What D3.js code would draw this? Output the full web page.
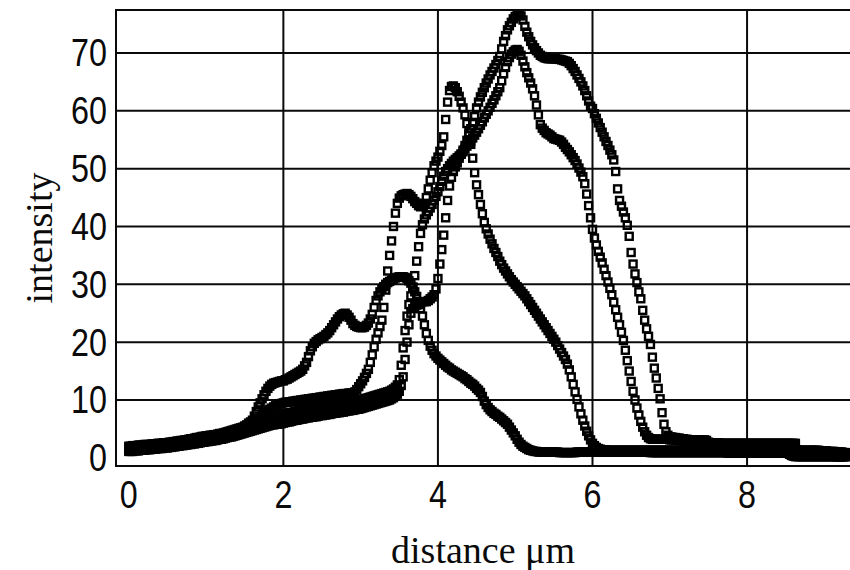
<!DOCTYPE html>
<html>
<head>
<meta charset="utf-8">
<script src="https://cdn.jsdelivr.net/npm/d3@7/dist/d3.min.js"></script>
<style>
  html, body { margin: 0; padding: 0; background: #fff; }
  svg { display: block; }
</style>
</head>
<body>
<svg id="chart" width="850" height="570"></svg>
<script>
// Intensity line profiles, sampled every 0.025 µm starting at 0 µm.
const sampleStep = 0.025;

const xTickValues = [0, 2, 4, 6, 8];
const yTickValues = [0, 10, 20, 30, 40, 50, 60, 70];
const xGridValues = [2, 4, 6, 8];
const yGridValues = [10, 20, 30, 40, 50, 60, 70];

const profile1 = [
  2.0,2.0,2.1,2.1,2.1,2.2,2.2,2.2,2.3,2.3,2.3,2.3,2.4,2.4,2.4,2.5,2.5,2.5,2.6,2.6,
  2.6,2.7,2.7,2.8,2.8,2.9,2.9,3.0,3.0,3.1,3.1,3.2,3.3,3.3,3.4,3.5,3.5,3.6,3.7,3.7,
  3.8,3.8,3.9,3.9,4.0,4.0,4.1,4.2,4.2,4.3,4.4,4.5,4.6,4.7,4.8,4.9,5.0,5.1,5.2,5.3,
  5.5,5.7,6.0,6.2,6.5,7.2,8.0,8.8,9.5,10.2,10.9,11.5,12.0,12.4,12.7,12.9,13.0,13.1,13.2,13.3,
  13.3,13.5,13.6,13.8,14.0,14.2,14.4,14.6,14.8,15.0,15.3,15.9,16.5,17.5,18.5,19.2,19.8,20.1,20.4,20.6,
  20.8,21.0,21.3,21.6,22.0,22.5,23.0,23.5,24.0,24.4,24.7,24.9,25.0,24.7,24.3,23.8,23.2,22.9,22.7,22.6,
  22.5,22.5,22.6,22.9,23.3,24.0,24.8,26.0,27.2,28.0,28.7,29.2,29.6,30.0,30.3,30.5,30.7,30.9,31.1,31.2,
  31.3,31.3,31.3,31.2,31.0,30.6,30.2,29.5,28.7,27.9,27.0,25.8,24.5,23.0,21.5,20.3,19.3,18.6,18.0,17.6,
  17.2,16.9,16.6,16.3,16.0,15.7,15.5,15.2,15.0,14.8,14.6,14.4,14.2,14.0,13.7,13.5,13.2,12.9,12.7,12.4,
  12.0,11.7,11.3,10.6,9.8,9.2,8.7,8.3,8.0,7.7,7.5,7.2,7.0,6.7,6.4,6.1,5.8,5.3,4.8,4.3,
  3.8,3.2,2.7,2.3,2.0,1.8,1.6,1.4,1.3,1.2,1.1,1.1,1.0,1.0,1.0,1.0,1.0,1.0,1.0,1.0,
  1.0,1.0,1.0,0.9,0.9,0.9,0.9,0.9,0.9,0.9,0.9,0.9,1.0,1.0,1.0,1.0,1.0,1.0,1.0,1.0,
  1.0,1.0,1.0,1.0,1.0,1.0,1.0,1.0,1.0,1.0,1.0,1.0,1.0,1.0,1.0,1.0,1.0,1.0,1.0,1.0,
  1.0,1.0,1.0,1.0,1.0,1.0,1.0,1.0,1.0,1.0,0.9,0.9,0.9,0.9,0.9,0.9,0.9,0.9,0.9,0.9,
  0.9,0.9,0.9,0.9,0.9,0.9,0.9,0.9,0.9,0.9,0.9,0.9,0.9,0.9,0.9,0.9,0.9,0.9,0.9,0.9,
  0.9,0.9,0.9,0.9,0.9,0.9,0.9,0.9,0.9,0.9,0.8,0.8,0.8,0.8,0.8,0.8,0.8,0.8,0.8,0.8,
  0.8,0.8,0.8,0.8,0.8,0.8,0.8,0.8,0.8,0.8,0.8,0.8,0.8,0.8,0.8,0.8,0.8,0.8,0.8,0.8,
  0.8,0.8,0.6,0.4,0.3,0.2,0.2,0.2,0.2,0.2,0.2,0.2,0.2,0.2,0.2,0.2,0.2,0.2,0.2,0.2,
  0.2,0.2,0.2,0.2,0.2,0.2,0.2,0.2,0.2,0.2,0.2,0.2
];

const profile2 = [
  1.6,1.6,1.6,1.7,1.7,1.7,1.8,1.8,1.8,1.9,1.9,1.9,2.0,2.0,2.0,2.1,2.1,2.1,2.2,2.2,
  2.2,2.3,2.3,2.4,2.4,2.5,2.5,2.6,2.6,2.7,2.7,2.8,2.9,2.9,3.0,3.1,3.1,3.2,3.3,3.3,
  3.4,3.4,3.5,3.5,3.6,3.6,3.7,3.8,3.8,3.9,4.0,4.1,4.2,4.3,4.4,4.5,4.6,4.7,4.8,4.9,
  5.0,5.1,5.2,5.3,5.5,5.8,6.1,6.5,6.8,7.2,7.5,7.9,8.2,8.4,8.6,8.8,9.0,9.1,9.3,9.4,
  9.5,9.6,9.6,9.7,9.7,9.8,9.8,9.9,9.9,10.0,10.0,10.1,10.1,10.2,10.2,10.3,10.3,10.4,10.4,10.5,
  10.5,10.6,10.6,10.7,10.7,10.8,10.8,10.9,10.9,11.0,11.0,11.1,11.1,11.1,11.2,11.2,11.2,11.4,11.8,12.3,
  12.8,13.3,13.9,14.6,15.3,16.5,17.8,19.2,20.5,21.6,22.7,23.8,26.0,29.0,32.3,35.0,37.5,40.0,42.3,44.0,
  44.9,45.3,45.5,45.6,45.7,45.5,45.2,44.8,44.3,44.0,43.6,43.4,43.5,44.0,45.0,46.5,48.0,49.3,50.5,51.3,
  52.0,53.0,54.0,55.5,58.5,61.5,63.5,64.2,64.3,64.0,63.3,62.5,61.5,60.5,59.3,57.8,56.2,54.2,51.8,49.3,
  47.2,45.5,43.8,42.2,40.7,39.6,38.7,37.8,37.0,36.2,35.5,34.8,34.0,33.4,32.8,32.3,31.8,31.3,30.8,30.4,
  30.0,29.6,29.2,28.8,28.4,28.0,27.5,27.0,26.5,26.0,25.5,25.0,24.5,24.0,23.5,23.0,22.5,22.0,21.5,21.0,
  20.5,20.0,19.4,18.8,18.2,17.6,17.0,16.2,15.2,14.0,12.7,11.4,10.1,8.8,7.6,6.5,5.5,4.6,3.8,3.1,
  2.5,2.1,1.8,1.6,1.5,1.4,1.4,1.4,1.3,1.3,1.3,1.3,1.3,1.3,1.3,1.3,1.3,1.3,1.3,1.3,
  1.3,1.3,1.3,1.3,1.3,1.3,1.3,1.3,1.3,1.3,1.3,1.3,1.3,1.3,1.3,1.3,1.3,1.3,1.3,1.3,
  1.3,1.3,1.3,1.3,1.3,1.3,1.3,1.3,1.3,1.3,1.2,1.2,1.2,1.2,1.2,1.2,1.2,1.2,1.2,1.2,
  1.2,1.2,1.2,1.2,1.2,1.2,1.2,1.2,1.2,1.2,1.2,1.2,1.2,1.2,1.2,1.2,1.2,1.2,1.2,1.2,
  1.2,1.2,1.2,1.2,1.2,1.2,1.2,1.2,1.2,1.2,1.1,1.1,1.1,1.1,1.1,1.1,1.1,1.1,1.1,1.1,
  1.1,1.1,0.9,0.6,0.4,0.3,0.3,0.3,0.3,0.3,0.3,0.3,0.3,0.3,0.3,0.3,0.3,0.3,0.3,0.3,
  0.3,0.3,0.3,0.3,0.3,0.3,0.2,0.2,0.2,0.2,0.2,0.2
];

const profile3 = [
  1.3,1.3,1.3,1.4,1.4,1.4,1.5,1.5,1.5,1.6,1.6,1.6,1.7,1.7,1.7,1.8,1.8,1.8,1.9,1.9,
  1.9,2.0,2.0,2.1,2.1,2.2,2.2,2.3,2.3,2.4,2.4,2.5,2.5,2.6,2.6,2.7,2.7,2.8,2.9,2.9,
  3.0,3.0,3.1,3.1,3.2,3.2,3.3,3.4,3.4,3.5,3.6,3.7,3.8,3.9,4.0,4.1,4.2,4.3,4.4,4.5,
  4.6,4.7,4.8,4.9,5.0,5.1,5.3,5.5,5.7,5.9,6.1,6.3,6.5,6.7,6.8,7.0,7.1,7.2,7.3,7.4,
  7.5,7.6,7.7,7.8,7.8,7.9,8.0,8.1,8.2,8.2,8.3,8.4,8.4,8.5,8.6,8.6,8.7,8.8,8.8,8.9,
  9.0,9.0,9.1,9.1,9.2,9.2,9.3,9.3,9.4,9.4,9.5,9.5,9.6,9.6,9.7,9.7,9.8,9.8,9.9,9.9,
  10.0,10.1,10.2,10.3,10.4,10.5,10.6,10.7,10.8,10.9,11.0,11.1,11.2,11.3,11.4,11.5,11.7,11.9,12.2,12.6,
  13.5,16.0,19.0,22.0,24.5,26.5,28.0,29.5,31.5,34.0,36.5,38.8,40.3,41.3,42.0,42.6,43.2,43.8,44.5,45.2,
  46.0,46.9,47.8,48.7,49.5,50.0,50.5,50.9,51.3,51.6,51.9,52.2,52.5,52.9,53.4,53.9,54.3,54.8,55.3,55.8,
  56.3,56.9,57.5,58.1,58.8,59.4,60.0,60.6,61.3,61.9,62.6,63.3,64.0,65.2,66.4,67.5,68.5,69.2,69.8,70.2,
  70.5,70.6,70.3,69.6,68.6,67.6,66.6,65.7,64.8,63.8,62.6,61.0,59.3,57.6,57.0,56.6,56.2,56.0,55.8,55.5,
  55.2,55.1,55.0,54.9,54.6,54.2,53.7,53.3,52.9,52.4,51.9,51.4,50.8,50.1,49.4,48.6,47.4,45.6,43.6,41.5,
  39.5,38.0,36.8,35.7,34.7,33.7,32.6,31.5,30.4,29.3,28.2,26.9,25.6,24.3,23.0,21.7,20.3,18.6,16.8,15.0,
  13.2,11.5,10.0,8.6,7.4,6.3,5.3,4.5,3.9,3.5,3.3,3.2,3.2,3.2,3.2,3.2,3.2,3.2,3.2,3.2,
  3.1,3.1,3.1,3.1,3.0,3.0,3.0,3.0,2.9,2.9,2.9,2.9,2.8,2.8,2.8,2.8,2.7,2.7,2.7,2.7,
  2.5,2.4,2.4,2.4,2.4,2.4,2.4,2.4,2.4,2.4,2.4,2.4,2.4,2.3,2.3,2.3,2.3,2.3,2.3,2.3,
  2.3,2.3,2.3,2.3,2.3,2.3,2.3,2.3,2.3,2.3,2.3,2.3,2.3,2.3,2.3,2.3,2.3,2.3,2.3,2.3,
  2.3,2.3,2.3,2.2,2.2,2.2,1.4,1.2,1.2,1.2,1.2,1.2,1.2,1.2,1.2,1.2,1.2,1.2,1.1,1.1,
  1.1,1.1,1.0,1.0,1.0,1.0,1.0,0.9,0.9,0.9,0.8,0.8
];

const profile4 = [
  1.1,1.1,1.1,1.2,1.2,1.2,1.3,1.3,1.3,1.4,1.4,1.4,1.5,1.5,1.5,1.6,1.6,1.6,1.7,1.7,
  1.7,1.8,1.8,1.9,1.9,2.0,2.0,2.1,2.1,2.2,2.2,2.3,2.3,2.4,2.4,2.5,2.5,2.6,2.7,2.7,
  2.8,2.8,2.9,2.9,3.0,3.0,3.1,3.2,3.2,3.3,3.4,3.5,3.6,3.6,3.7,3.8,3.9,4.0,4.1,4.2,
  4.3,4.4,4.5,4.6,4.7,4.8,4.9,5.0,5.1,5.2,5.3,5.4,5.5,5.6,5.7,5.7,5.8,5.8,5.9,5.9,
  6.0,6.1,6.2,6.2,6.3,6.4,6.5,6.5,6.6,6.7,6.7,6.8,6.9,6.9,7.0,7.0,7.1,7.1,7.2,7.3,
  7.3,7.4,7.4,7.5,7.5,7.6,7.7,7.7,7.8,7.8,7.9,7.9,8.0,8.1,8.1,8.2,8.2,8.3,8.4,8.4,
  8.5,8.6,8.7,8.8,8.9,9.0,9.1,9.2,9.3,9.4,9.5,9.6,9.7,9.8,9.9,10.0,10.2,10.4,10.7,11.0,
  11.5,12.5,14.0,17.0,20.0,23.0,25.0,25.8,26.2,26.4,26.5,26.7,27.0,27.0,27.0,27.2,27.5,27.8,28.2,29.2,
  31.0,33.5,36.0,38.5,41.5,44.5,47.0,48.5,49.5,50.3,51.0,51.8,52.5,53.2,54.0,54.9,55.8,56.9,58.0,59.0,
  60.5,61.5,62.4,63.2,64.0,64.8,65.5,66.2,66.8,67.4,68.0,68.7,69.4,70.7,72.0,73.0,74.0,74.7,75.3,75.9,
  76.3,76.6,76.7,76.4,75.7,74.6,73.6,72.8,72.0,71.4,70.9,70.4,70.0,69.6,69.4,69.2,69.1,69.0,69.0,69.0,
  69.0,69.0,68.9,68.9,68.8,68.7,68.6,68.5,68.2,67.8,67.3,66.8,66.2,65.6,65.0,64.3,63.5,62.6,61.7,60.8,
  60.4,59.5,58.7,57.9,57.1,56.3,55.5,54.7,54.0,53.2,52.4,51.5,49.5,46.5,44.5,43.5,42.5,41.5,40.2,38.3,
  35.5,33.5,31.8,30.3,28.7,27.5,25.5,23.8,22.3,21.0,19.6,17.4,15.5,13.8,12.0,10.2,7.8,5.8,4.5,3.9,
  3.6,3.6,3.5,3.5,3.4,3.4,3.3,3.3,3.2,3.2,3.1,3.1,3.1,3.1,3.1,3.1,3.1,3.1,3.1,3.0,
  2.7,2.6,2.6,2.6,2.6,2.6,2.5,2.5,2.5,2.5,2.5,2.5,2.5,2.5,2.5,2.5,2.5,2.5,2.5,2.5,
  2.5,2.5,2.5,2.5,2.5,2.5,2.5,2.5,2.5,2.5,2.5,2.5,2.5,2.5,2.5,2.5,2.5,2.5,2.5,2.5,
  2.5,2.5,2.5,2.5,2.5,2.5,1.4,1.3,1.3,1.3,1.3,1.3,1.3,1.3,1.3,1.3,1.3,1.3,1.2,1.2,
  1.2,1.2,1.1,1.1,1.1,1.1,1.0,1.0,1.0,1.0,0.9,0.9
];

const profiles = [profile1, profile2, profile3, profile4];

// ---- layout ----
const frame = { left: 116, top: 10, right: 850, bottom: 466 };
const svg = d3.select("#chart");

const x = d3.scaleLinear()
  .domain([-0.1656, 9.332])
  .range([frame.left, frame.right]);
const y = d3.scaleLinear()
  .domain([-1.418, 77.43])
  .range([frame.bottom, frame.top]);

const ink = "#0a0a0a";

// grid
const grid = svg.append("g").attr("stroke", ink).attr("stroke-width", 2);
grid.selectAll("line.vx").data(xGridValues).join("line")
  .attr("class", "vx")
  .attr("x1", d => x(d)).attr("x2", d => x(d))
  .attr("y1", frame.top).attr("y2", frame.bottom);
grid.selectAll("line.hy").data(yGridValues).join("line")
  .attr("class", "hy")
  .attr("x1", frame.left).attr("x2", frame.right + 4)
  .attr("y1", d => y(d)).attr("y2", d => y(d));

// profile markers: open squares (outline only) at every sample
const side = 7;
const markers = svg.append("g")
  .attr("fill", "none")
  .attr("stroke", "#000")
  .attr("stroke-width", 2.4);
profiles.forEach((vals, k) => {
  markers.append("g").attr("class", "profile-" + (k + 1))
    .selectAll("rect")
    .data(vals.map((v, i) => ({ d: i * sampleStep, v })))
    .join("rect")
    .attr("x", p => x(p.d) - side / 2)
    .attr("y", p => y(p.v) - side / 2)
    .attr("width", side)
    .attr("height", side);
});

// frame
svg.append("rect")
  .attr("x", frame.left).attr("y", frame.top)
  .attr("width", frame.right - frame.left + 6)
  .attr("height", frame.bottom - frame.top)
  .attr("fill", "none").attr("stroke", ink).attr("stroke-width", 2);

// tick labels
const tickFont = "'Liberation Sans', Arial, sans-serif";
svg.append("g").selectAll("text").data(xTickValues).join("text")
  .attr("transform", d => `translate(${x(d)},508) scale(0.85,1)`)
  .attr("text-anchor", "middle")
  .attr("font-family", tickFont)
  .attr("font-size", 38)
  .attr("fill", ink)
  .text(d => d);

svg.append("g").selectAll("text").data(yTickValues).join("text")
  .attr("transform", d => `translate(107,${y(d) + 13.5}) scale(0.85,1)`)
  .attr("text-anchor", "end")
  .attr("font-family", tickFont)
  .attr("font-size", 38)
  .attr("fill", ink)
  .text(d => d);

// axis titles
const titleFont = "'Liberation Serif', 'Times New Roman', serif";
svg.append("text")
  .attr("x", (frame.left + frame.right) / 2)
  .attr("y", 563)
  .attr("text-anchor", "middle")
  .attr("font-family", titleFont)
  .attr("font-size", 38)
  .attr("fill", ink)
  .text("distance μm");

svg.append("text")
  .attr("transform", `translate(52,${(frame.top + frame.bottom) / 2}) rotate(-90)`)
  .attr("text-anchor", "middle")
  .attr("font-family", titleFont)
  .attr("font-size", 38)
  .attr("fill", ink)
  .text("intensity");
</script>
</body>
</html>
